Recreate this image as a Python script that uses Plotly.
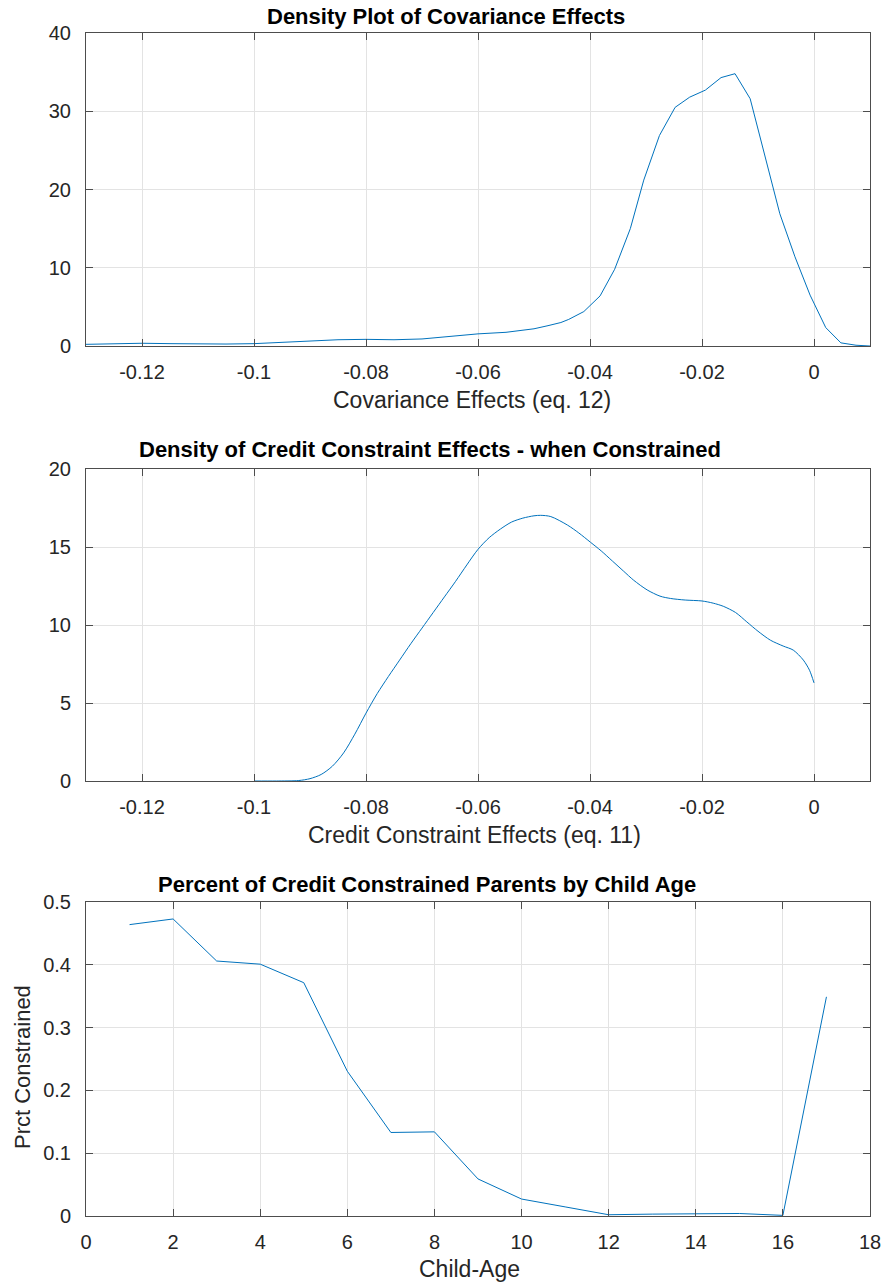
import plotly.graph_objects as go

# ---- data ----
cov_x = [-0.1310, -0.125, -0.12, -0.115, -0.11, -0.105, -0.10, -0.095, -0.09, -0.085,
         -0.08, -0.075, -0.07, -0.065, -0.06, -0.055, -0.05, -0.0475, -0.0452, -0.0438,
         -0.0411, -0.0382, -0.0356, -0.0328, -0.0304, -0.0276, -0.0248, -0.0222, -0.0194,
         -0.0166, -0.0141, -0.0114, -0.0087, -0.0061, -0.0034, -0.0007, 0.0021, 0.0048,
         0.0075, 0.0100]
cov_y = [0.2, 0.3, 0.35, 0.3, 0.25, 0.25, 0.3, 0.45, 0.65, 0.8,
         0.85, 0.8, 0.9, 1.2, 1.55, 1.75, 2.2, 2.6, 3.0, 3.4,
         4.4, 6.4, 9.8, 15.0, 21.2, 26.9, 30.5, 31.8, 32.7,
         34.3, 34.8, 31.6, 24.2, 16.9, 11.4, 6.5, 2.35, 0.4,
         0.1, 0.0]

cc_x = [-0.1000, -0.0960, -0.0920, -0.0900, -0.0880, -0.0860, -0.0840, -0.0820, -0.0800,
        -0.0780, -0.0760, -0.0740, -0.0720, -0.0700, -0.0680, -0.0660, -0.0640, -0.0620,
        -0.0600, -0.0580, -0.0560, -0.0540, -0.0520, -0.0500, -0.0488, -0.0470, -0.0440,
        -0.0420, -0.0399, -0.0380, -0.0360, -0.0340, -0.0322, -0.0298, -0.0275, -0.0256,
        -0.0230, -0.0200, -0.0180, -0.0162, -0.0140, -0.0120, -0.0100, -0.0078, -0.0055,
        -0.0037, -0.0019, -0.0008, 0.0]
cc_y = [0.0, 0.0, 0.03, 0.15, 0.42, 0.95, 1.8, 3.0, 4.35,
        5.6, 6.7, 7.75, 8.8, 9.8, 10.8, 11.8, 12.8, 13.85,
        14.85, 15.6, 16.15, 16.6, 16.85, 17.0, 17.03, 16.95, 16.4,
        15.9, 15.3, 14.75, 14.1, 13.45, 12.87, 12.25, 11.85, 11.7,
        11.6, 11.54, 11.4, 11.2, 10.8, 10.2, 9.6, 9.03, 8.65,
        8.39, 7.75, 7.1, 6.29]

age = list(range(1, 18))
prct = [0.464, 0.473, 0.406, 0.401, 0.3715, 0.2305, 0.133, 0.134, 0.059, 0.027,
        0.0145, 0.002, 0.003, 0.003, 0.004, 0.001, 0.349]

eff_ticks = [-0.12, -0.10, -0.08, -0.06, -0.04, -0.02, 0.0]
eff_ticktext = ["-0.12", "-0.1", "-0.08", "-0.06", "-0.04", "-0.02", "0"]
cov_yticks = [0, 10, 20, 30, 40]
cc_yticks = [0, 5, 10, 15, 20]
age_ticks = [0, 2, 4, 6, 8, 10, 12, 14, 16, 18]
prct_ticks = [0, 0.1, 0.2, 0.3, 0.4, 0.5]
prct_ticktext = ["0", "0.1", "0.2", "0.3", "0.4", "0.5"]

titles = ["Density Plot of Covariance Effects",
          "Density of Credit Constraint Effects - when Constrained",
          "Percent of Credit Constrained Parents by Child Age"]
xlabels = ["Covariance Effects (eq. 12)", "Credit Constraint Effects (eq. 11)", "Child-Age"]
ylabel3 = "Prct Constrained"

# ---- layout geometry (pixels) ----
W, H = 882, 1283
L, R, T, B = 86, 12, 33, 67
PW = W - L - R
PH = H - T - B


def py(p):
    return (H - B - p) / PH


def px(p):
    return (p - L) / PW


LINE = "#0072BD"
AX = "#4d4d4d"
TXT = "#262626"
GRID = "#e3e3e3"
FONT = "Liberation Sans, Arial, sans-serif"

fig = go.Figure()
fig.add_trace(go.Scatter(x=cov_x, y=cov_y, mode="lines", line=dict(color=LINE, width=1),
                         xaxis="x", yaxis="y", showlegend=False))
fig.add_trace(go.Scatter(x=cc_x, y=cc_y, mode="lines",
                         line=dict(color=LINE, width=1, shape="spline", smoothing=0.8),
                         xaxis="x2", yaxis="y2", showlegend=False))
fig.add_trace(go.Scatter(x=age, y=prct, mode="lines", line=dict(color=LINE, width=1),
                         xaxis="x3", yaxis="y3", showlegend=False))

common = dict(showline=True, linecolor=AX, linewidth=1, mirror="ticks", ticks="inside",
              ticklen=7, tickcolor=AX, showgrid=True, gridcolor=GRID, gridwidth=1,
              zeroline=False, automargin=False,
              tickfont=dict(family=FONT, size=20, color=TXT))

fig.update_layout(
    width=W, height=H, margin=dict(l=L, r=R, t=T, b=B, autoexpand=False),
    autosize=False,
    paper_bgcolor="white", plot_bgcolor="white",
    font=dict(family=FONT, color=TXT),
    xaxis=dict(domain=[0, 1], anchor="y", range=[-0.13, 0.01], tickvals=eff_ticks,
               ticktext=eff_ticktext, ticklabelstandoff=8, **common),
    yaxis=dict(domain=[py(346), 1], anchor="x", range=[0, 40], tickvals=cov_yticks,
               ticklabelstandoff=10, **common),
    xaxis2=dict(domain=[0, 1], anchor="y2", range=[-0.13, 0.01], tickvals=eff_ticks,
                ticktext=eff_ticktext, ticklabelstandoff=8, **common),
    yaxis2=dict(domain=[py(781), py(469)], anchor="x2", range=[0, 20], tickvals=cc_yticks,
                ticklabelstandoff=10, **common),
    xaxis3=dict(domain=[0, 1], anchor="y3", range=[0, 18], tickvals=age_ticks,
                ticklabelstandoff=8, **common),
    yaxis3=dict(domain=[0, py(902)], anchor="x3", range=[0, 0.5], tickvals=prct_ticks,
                ticktext=prct_ticktext, ticklabelstandoff=10, **common),
)

ann = []
for t, cx, cy in zip(titles, [446, 430, 427], [16, 450, 884]):
    ann.append(dict(text="<b>%s</b>" % t, x=px(cx), y=py(cy), xref="paper", yref="paper",
                    xanchor="center", yanchor="middle", showarrow=False,
                    font=dict(family=FONT, size=22, color="black")))
for t, cx, cy in zip(xlabels, [472, 474, 469], [400, 835, 1269]):
    ann.append(dict(text=t, x=px(cx), y=py(cy), xref="paper", yref="paper",
                    xanchor="center", yanchor="middle", showarrow=False,
                    font=dict(family=FONT, size=23, color=TXT)))
ann.append(dict(text=ylabel3, x=px(22), y=py(1067), xref="paper", yref="paper",
                xanchor="center", yanchor="middle", showarrow=False, textangle=-90,
                font=dict(family=FONT, size=22, color=TXT)))
fig.update_layout(annotations=ann)

fig.write_html("out.html", config={"displayModeBar": False},
               post_script="document.body.style.margin='0';document.body.style.overflow='hidden';")
